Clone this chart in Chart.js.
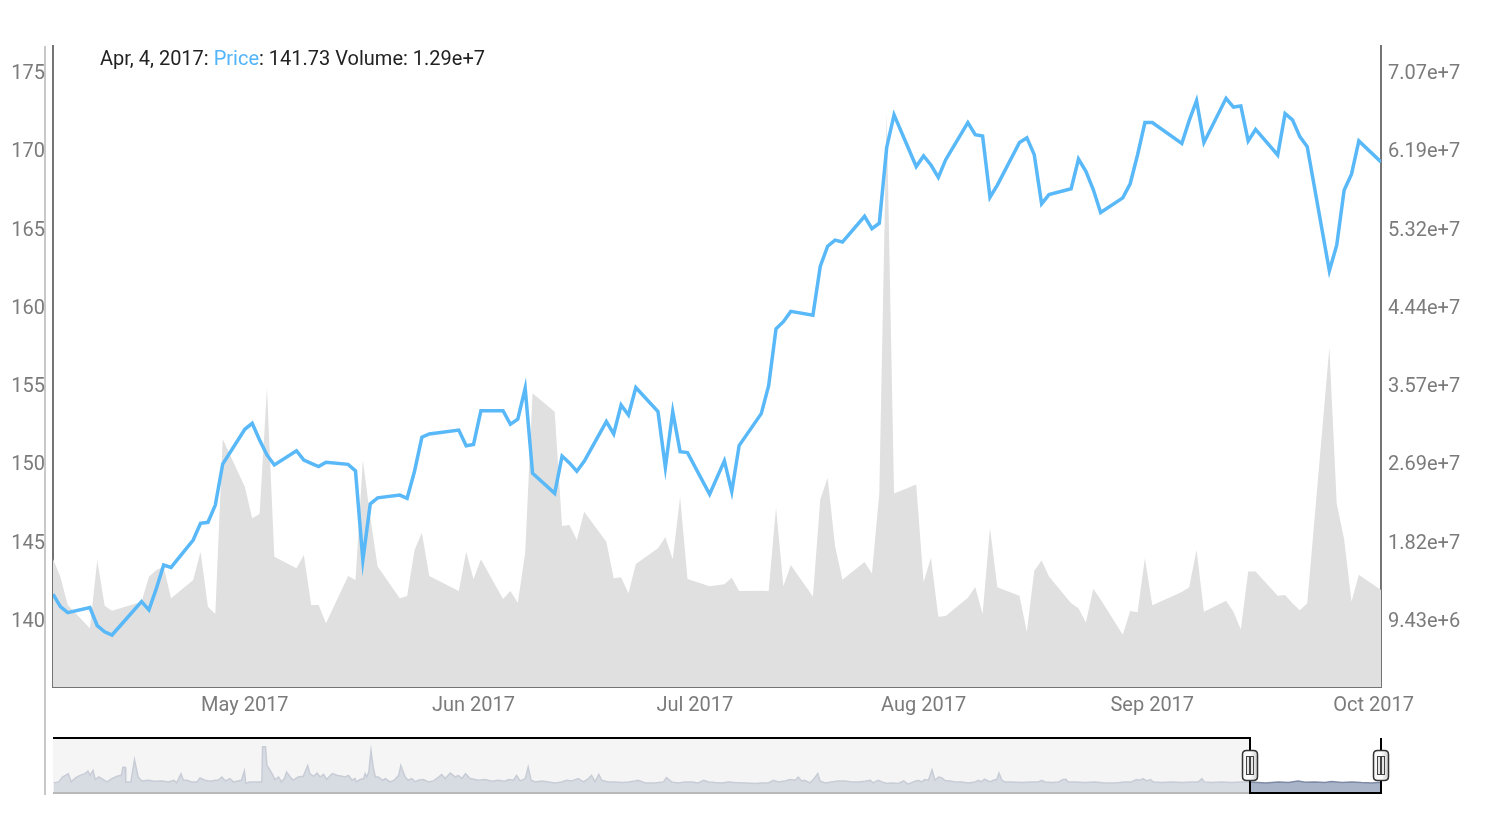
<!DOCTYPE html>
<html><head><meta charset="utf-8">
<script src="https://cdn.jsdelivr.net/npm/chart.js@4.4.1/dist/chart.umd.min.js"></script>
<style>
html,body{margin:0;padding:0;background:#fff;width:1490px;height:814px;overflow:hidden;font-family:Roboto,sans-serif;}
#main{position:absolute;left:0;top:0;}
#mini{position:absolute;left:0;top:728px;}
#edge{position:absolute;left:44px;top:46px;width:2px;height:749px;background:#c8c8c8;}
#legend{position:absolute;left:100px;top:46px;font-size:20px;line-height:normal;font-family:Roboto,sans-serif;color:#222;white-space:nowrap;}
#legend .p{color:#52b4fa;}
</style></head><body>
<div id="edge"></div>
<canvas id="main" width="1490" height="725"></canvas>
<canvas id="mini" width="1490" height="72"></canvas>
<div id="legend"><span id="lgDate"></span>: <span class="p">Price</span>: <span id="lgPrice"></span> Volume: <span id="lgVol"></span></div>
<script>
// ---------- data ----------
const legendDate = 'Apr, 4, 2017';
const legendPrice = '141.73';
const legendVolume = '1.29e+7';

const tradeDates = [
'2017-04-05','2017-04-06','2017-04-07','2017-04-10','2017-04-11','2017-04-12','2017-04-13','2017-04-17','2017-04-18','2017-04-19','2017-04-20','2017-04-21',
'2017-04-24','2017-04-25','2017-04-26','2017-04-27','2017-04-28',
'2017-05-01','2017-05-02','2017-05-03','2017-05-04','2017-05-05','2017-05-08','2017-05-09','2017-05-10','2017-05-11','2017-05-12',
'2017-05-15','2017-05-16','2017-05-17','2017-05-18','2017-05-19','2017-05-22','2017-05-23','2017-05-24','2017-05-25','2017-05-26',
'2017-05-30','2017-05-31','2017-06-01','2017-06-02','2017-06-05','2017-06-06','2017-06-07','2017-06-08','2017-06-09',
'2017-06-12','2017-06-13','2017-06-14','2017-06-15','2017-06-16','2017-06-19','2017-06-20','2017-06-21','2017-06-22','2017-06-23',
'2017-06-26','2017-06-27','2017-06-28','2017-06-29','2017-06-30','2017-07-03','2017-07-05','2017-07-06','2017-07-07',
'2017-07-10','2017-07-11','2017-07-12','2017-07-13','2017-07-14','2017-07-17','2017-07-18','2017-07-19','2017-07-20','2017-07-21',
'2017-07-24','2017-07-25','2017-07-26','2017-07-27','2017-07-28','2017-07-31','2017-08-01','2017-08-02','2017-08-03','2017-08-04',
'2017-08-07','2017-08-08','2017-08-09','2017-08-10','2017-08-11','2017-08-14','2017-08-15','2017-08-16','2017-08-17','2017-08-18',
'2017-08-21','2017-08-22','2017-08-23','2017-08-24','2017-08-25','2017-08-28','2017-08-29','2017-08-30','2017-08-31','2017-09-01',
'2017-09-05','2017-09-06','2017-09-07','2017-09-08','2017-09-11','2017-09-12','2017-09-13','2017-09-14','2017-09-15',
'2017-09-18','2017-09-19','2017-09-20','2017-09-21','2017-09-22','2017-09-25','2017-09-26','2017-09-27','2017-09-28','2017-09-29','2017-10-02'];

const priceValues = [
141.65,140.85,140.47,140.79,139.64,139.25,139.04,141.17,140.64,142.0,143.51,143.36,
145.11,146.17,146.24,147.34,149.96,
152.18,152.56,151.5,150.54,149.9,150.81,150.22,150.0,149.8,150.07,
149.94,149.52,143.83,147.41,147.8,147.98,147.77,149.5,151.67,151.88,
152.13,151.13,151.21,153.37,153.37,152.5,152.82,154.8,149.37,
148.09,150.47,150.03,149.5,150.13,152.67,151.88,153.73,153.09,154.84,
153.31,149.75,153.31,150.75,150.69,148.03,150.16,148.2,151.14,
153.18,154.96,158.6,159.05,159.71,159.46,162.6,163.87,164.26,164.14,
165.78,164.99,165.34,170.18,172.26,168.96,169.64,169.06,168.27,169.4,
171.77,170.99,170.91,167.0,167.78,170.5,170.79,169.72,166.58,167.17,
167.54,169.44,168.66,167.49,166.03,166.96,167.86,169.7,171.77,171.77,
170.43,171.89,173.17,170.5,173.32,172.76,172.83,170.6,171.33,
169.7,172.34,171.94,170.87,170.23,162.3,163.94,167.44,168.47,170.6,169.25];

const volumeValues = [
16.25e6,14.27e6,11.1e6,8.5e6,16.14e6,11.03e6,10.47e6,11.48e6,14.27e6,15.02e6,15.39e6,11.86e6,
13.9e6,17.07e6,10.92e6,10.1e6,29.67e6,
24.33e6,20.8e6,21.28e6,35.33e6,16.51e6,15.21e6,16.7e6,11.1e6,11.1e6,9.06e6,
14.35e6,13.9e6,27.32e6,20.98e6,15.4e6,11.86e6,12.11e6,17.26e6,19.19e6,14.35e6,
12.67e6,17.07e6,13.98e6,16.22e6,11.78e6,12.67e6,11.36e6,16.95e6,34.78e6,
32.72e6,19.94e6,20.05e6,18.37e6,21.54e6,18.18e6,14.09e6,14.2e6,12.41e6,15.69e6,
17.45e6,18.68e6,16.22e6,23.22e6,14.01e6,13.21e6,13.42e6,14.16e6,12.66e6,
12.7e6,12.66e6,22.0e6,13.21e6,15.57e6,12.06e6,22.94e6,25.34e6,17.71e6,13.94e6,
15.91e6,14.63e6,23.62e6,66.2e6,23.58e6,24.57e6,13.65e6,16.43e6,9.79e6,9.88e6,
11.92e6,13.13e6,10.09e6,19.73e6,13.09e6,12.15e6,8.08e6,14.93e6,16.08e6,14.28e6,
11.29e6,10.73e6,9.14e6,12.91e6,11.71e6,7.78e6,10.43e6,10.3e6,16.34e6,11.07e6,
12.57e6,13.09e6,17.28e6,10.35e6,11.59e6,10.35e6,8.37e6,14.84e6,14.84e6,
12.15e6,12.23e6,11.29e6,10.51e6,11.29e6,39.9e6,22.42e6,18.49e6,11.5e6,14.5e6,12.78e6];

// x axis: days counted from 2017-05-01
const monthTickDates = ['2017-05-01','2017-06-01','2017-07-01','2017-08-01','2017-09-01','2017-10-01'];
const monthTickLabels = ['May 2017','Jun 2017','Jul 2017','Aug 2017','Sep 2017','Oct 2017'];
const priceTicks = [140,145,150,155,160,165,170,175];
const priceRange = [135.72, 176.66];
const volumeTicks = [9.43e6,18.183e6,26.936e6,35.689e6,44.442e6,53.195e6,61.948e6,70.701e6];
const volumeRange = [1.937e6, 73.607e6];

// overview (range selector) series: day offsets from 2017-05-01 and levels
const overviewDays = [
-1670,-1663,-1658,-1652,-1650,-1646,-1640,-1634,-1627,-1623,-1620,-1616,-1613,-1608,-1604,-1597,-1590,-1583,-1577,-1575,-1572,-1571,-1564,-1559,-1554,-1549,-1540,-1531,-1521,-1512,-1505,-1501,-1495,-1492,-1487,-1480,-1473,-1469,-1462,-1455,-1448,-1444,-1439,-1434,-1428,-1423,-1417,-1412,-1408,-1406,-1401,-1393,-1384,-1383,-1379,-1377,-1374,-1370,-1366,-1361,-1357,-1353,-1350,-1345,-1341,-1334,-1327,-1321,-1318,-1313,-1308,-1304,-1299,-1295,-1292,-1287,-1281,-1274,-1270,-1265,-1260,-1256,-1254,-1249,-1244,-1242,-1240,-1237,-1234,-1231,-1228,-1224,-1218,-1214,-1208,-1202,-1196,-1193,-1187,-1183,-1178,-1173,-1169,-1162,-1155,-1148,-1141,-1137,-1132,-1125,-1118,-1114,-1109,-1104,-1098,-1086,-1077,-1068,-1059,-1050,
-1045,-1038,-1034,-1029,-1022,-1018,-1014,-1008,-999,-990,-981,-972,-965,-958,-949,-942,-935,-931,-926,-921,-917,-908,-899,-889,-880,-871,-867,-857,-844,-832,-828,-821,-812,-802,-793,-784,-777,-770,-761,-752,-743,-734,-720,-706,-697,-688,-681,-674,-665,-658,-651,-647,-642,-638,-631,-626,-620,-617,-610,-601,-592,-583,-573,-564,-555,-548,-544,-537,-532,-525,-518,-509,-502,-496,-489,-482,-477,-473,-468,-466,-463,-459,-454,-450,-445,-438,-431,
-422,-413,-404,-399,-395,-391,-388,-383,-379,-374,-371,-367,-363,-354,-340,-326,-317,-312,-308,-299,-289,-283,-279,-276,-267,-253,-239,-225,-212,-198,-189,-182,-177,-173,-168,-163,-159,-147,-134,-120,-106,-97,-92,-89,-79,-65,-51,-38,-26,-5,13,27,40,50,63,77,86,100,114,127,141,150,154];
const overviewLevels = [
10.3,11.3,16.3,18.7,19.7,11.3,15.3,18,19.7,22.3,18,23,13.7,16.3,14.7,11.3,14.7,17,18,26.3,26.3,11.3,11.3,33.7,16.3,12.3,13,12,12.3,11.3,13,10.3,19.7,13,13,11.3,11.3,15.3,13,12,13,13,16.3,12.3,14.7,11.3,12.3,13,22.3,9.7,11.3,11.3,11.3,47,47,28,24.7,19.7,13.7,16.3,11.3,14.7,21.3,16.3,13,16.3,17,28,19.7,17,20.3,16.3,19,13.7,16.3,19.7,18,17,16.3,18,13,14.7,11.3,13.7,14.7,19.7,16.3,21.3,43,26.3,16.3,16.3,13,14.7,11.3,13,18,28,16.3,13,14.7,11.3,13,13.7,11.3,12.3,16.3,18.7,14.7,20.3,16.3,18,14.7,19.7,14.7,13,13.7,12,13,12,
13.7,13,18,12.3,14.7,26.3,13,11.3,12.3,11.3,10.3,11.3,13,12.3,14.7,11.3,14.7,18,11.3,19,13,11.3,11.3,10.7,11.3,12.3,13,10.3,10.3,11.3,15.7,11.3,10.3,11.3,11.3,10.3,13,11.3,10.7,10.3,11.3,10.7,10.3,9.7,10.3,10.3,13,11.3,12.3,13.7,13,16.3,12.3,13,10.3,13.7,19.7,12.3,10.3,11.3,12.3,12.3,11.3,11.3,12,13,10.3,13,11.3,9.7,10.3,9.7,12.3,9,11.3,13,11.3,13.7,13,17,23.7,13,16.3,15.7,12.7,12.3,11.3,
11.3,10.3,11.3,13,11.3,14,13,11.3,13,13.7,20.3,13,11.3,11.3,10.7,11.3,11.3,13,11.3,10.7,11.3,13.7,14,11.3,11.3,10.7,11.3,10.3,10.3,11.3,11.3,13.7,13,14.7,12.3,13.7,11.3,10.7,11.3,10.7,11.3,11.3,14.7,11.3,10.7,11.3,10.7,11.3,11.3,10.3,11.3,10.7,12.3,11,11.3,10.7,11.7,10.7,11.3,10.7,10.3,10.7,10.7];
const windowStart = -26, windowEnd = 154;

// ---------- helpers ----------
const BASE = Date.UTC(2017,4,1);
function dayOf(s){const [y,m,d]=s.split('-').map(Number);return (Date.UTC(y,m-1,d)-BASE)/86400000;}
const xDays = tradeDates.map(dayOf);
const tickDays = monthTickDates.map(dayOf);

document.getElementById('lgDate').textContent = legendDate;
document.getElementById('lgPrice').textContent = legendPrice;
document.getElementById('lgVol').textContent = legendVolume;

const FONT = 'Roboto';
const TICK_COLOR = '#7b7b7b';
const AXIS_COLOR = '#747474';

new Chart(document.getElementById('main'), {
  type:'line',
  data:{datasets:[
    {label:'Price', yAxisID:'y', order:1, data:xDays.map((d,i)=>({x:d,y:priceValues[i]})),
     borderColor:'#58b8f8', borderWidth:3.5, pointRadius:0, tension:0, fill:false},
    {label:'Volume', yAxisID:'y2', order:2, data:xDays.map((d,i)=>({x:d,y:volumeValues[i]})),
     borderColor:'#e0e0e0', borderWidth:0, backgroundColor:'#e0e0e0', pointRadius:0, tension:0, fill:'start'}
  ]},
  options:{
    responsive:false, animation:false, devicePixelRatio:1,
    layout:{padding:{top:46,left:0,right:0,bottom:0}},
    plugins:{legend:{display:false}, tooltip:{enabled:false}},
    scales:{
      x:{type:'linear', min:windowStart, max:windowEnd,
         afterBuildTicks:s=>{s.ticks=tickDays.map(v=>({value:v}));},
         afterFit:s=>{s.height=38;},
         ticks:{callback:(v,i)=>monthTickLabels[i], font:{family:FONT,size:20}, color:TICK_COLOR, padding:7, maxRotation:0, autoSkip:false},
         grid:{display:false, drawTicks:false},
         border:{display:true, color:AXIS_COLOR, width:2}},
      y:{type:'linear', position:'left', min:priceRange[0], max:priceRange[1],
         afterBuildTicks:s=>{s.ticks=priceTicks.map(v=>({value:v}));},
         afterFit:s=>{s.width=53;},
         ticks:{font:{family:FONT,size:20}, color:TICK_COLOR, padding:8, labelOffset:2, callback:v=>String(v)},
         grid:{display:false, drawTicks:false},
         border:{display:true, color:AXIS_COLOR, width:2}},
      y2:{type:'linear', position:'right', min:volumeRange[0], max:volumeRange[1],
         afterBuildTicks:s=>{s.ticks=volumeTicks.map(v=>({value:v}));},
         afterFit:s=>{s.width=109;},
         ticks:{font:{family:FONT,size:20}, color:TICK_COLOR, padding:7, labelOffset:2, callback:v=>Number(v).toExponential(2)},
         grid:{display:false, drawTicks:false},
         border:{display:true, color:AXIS_COLOR, width:2}}
    }
  }
});

function roundRectPath(ctx,x,y,w,h,r){
  ctx.beginPath();
  ctx.moveTo(x+r,y);ctx.lineTo(x+w-r,y);ctx.quadraticCurveTo(x+w,y,x+w,y+r);
  ctx.lineTo(x+w,y+h-r);ctx.quadraticCurveTo(x+w,y+h,x+w-r,y+h);
  ctx.lineTo(x+r,y+h);ctx.quadraticCurveTo(x,y+h,x,y+h-r);
  ctx.lineTo(x,y+r);ctx.quadraticCurveTo(x,y,x+r,y);ctx.closePath();
}
function drawHandle(ctx,cx,cy){
  const w=15,h=30;
  const g=ctx.createLinearGradient(cx-w/2,0,cx+w/2,0);
  g.addColorStop(0,'#f4f4f4');g.addColorStop(0.5,'#ffffff');g.addColorStop(1,'#cfcfcf');
  roundRectPath(ctx,cx-w/2,cy-h/2,w,h,4);
  ctx.fillStyle=g;ctx.fill();
  ctx.lineWidth=1.5;ctx.strokeStyle='#333';ctx.stroke();
  ctx.lineWidth=1;ctx.strokeStyle='#444';ctx.fillStyle='#e6e6e6';
  [cx-3.5,cx+0.5].forEach(x=>{ctx.fillRect(x,cy-9,3,18);ctx.strokeRect(x,cy-9,3,18);});
}

const selectorPlugin = {
  id:'selector',
  afterDatasetsDraw(chart){
    const {ctx, chartArea:a, scales:{x}} = chart;
    const sl = Math.round(x.getPixelForValue(windowStart));
    const sr = Math.round(x.getPixelForValue(windowEnd));
    ctx.save();
    ctx.fillStyle='rgba(240,240,240,0.65)';
    ctx.fillRect(a.left, a.top, sl-a.left, a.bottom-a.top);
    ctx.strokeStyle='#b9b9b9'; ctx.lineWidth=2;
    ctx.beginPath(); ctx.moveTo(a.left,a.bottom); ctx.lineTo(sl,a.bottom); ctx.stroke();
    ctx.strokeStyle='#000'; ctx.lineWidth=2;
    ctx.beginPath();
    ctx.moveTo(a.left,a.top); ctx.lineTo(sl,a.top); ctx.lineTo(sl,a.bottom);
    ctx.lineTo(sr,a.bottom); ctx.lineTo(sr,a.top);
    ctx.stroke();
    const cy=(a.top+a.bottom)/2;
    drawHandle(ctx,sl,cy); drawHandle(ctx,sr,cy);
    ctx.restore();
  }
};

new Chart(document.getElementById('mini'), {
  type:'line',
  data:{datasets:[{data:overviewDays.map((d,i)=>({x:d,y:overviewLevels[i]})),
    borderColor:'#7f8ba6', borderWidth:1.5, backgroundColor:'#a9b4c8', fill:'start', pointRadius:0, tension:0}]},
  options:{
    responsive:false, animation:false, devicePixelRatio:1,
    layout:{padding:{left:53,right:109,top:10,bottom:7}},
    plugins:{legend:{display:false}, tooltip:{enabled:false}},
    scales:{
      x:{type:'linear', display:false, min:-1671, max:windowEnd},
      y:{type:'linear', display:false, min:0, max:56}
    }
  },
  plugins:[selectorPlugin]
});
</script>
</body></html>
